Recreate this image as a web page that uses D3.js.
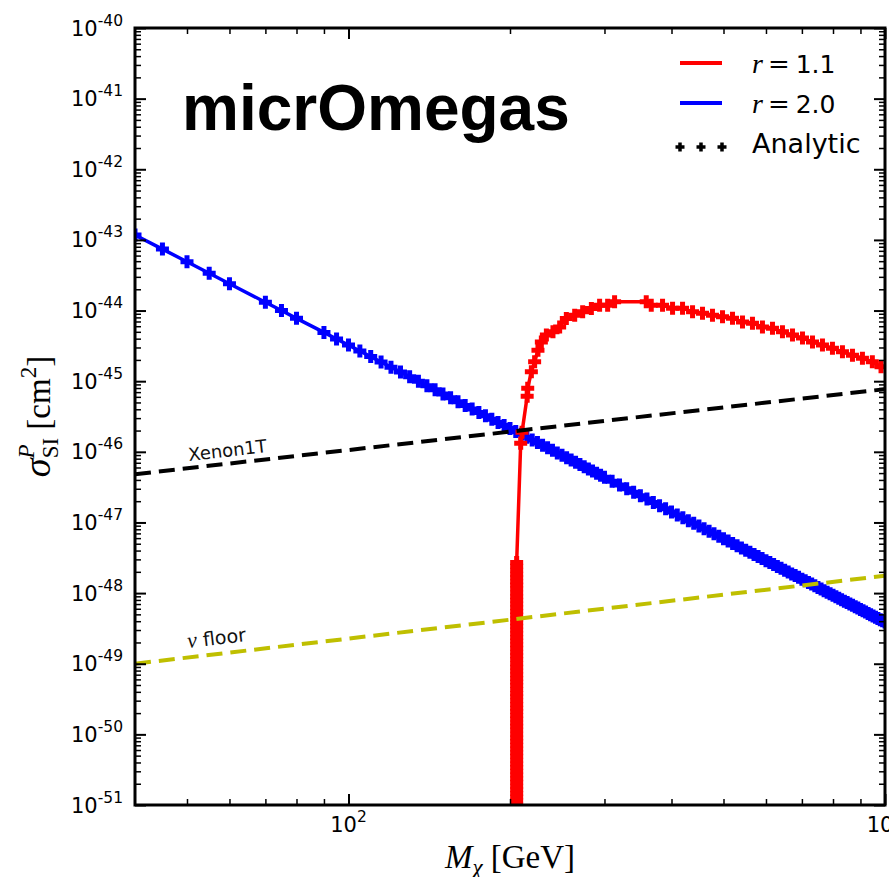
<!DOCTYPE html>
<html>
<head>
<meta charset="utf-8">
<script src="https://cdn.jsdelivr.net/npm/d3@7"></script>
<style>
body { margin: 0; background: #fff; }
</style>
</head>
<body>
<div id="chart"></div>
<script>
// r = 2.0 scan (mass in GeV, sigma in cm^2)
var blueMass = [40, 45, 50, 55, 60, 70, 75, 80, 90, 95,
    100, 105, 110, 115, 120, 125, 130, 135, 140, 145, 150, 155, 160, 165, 170, 175, 180, 185, 190, 195,
    200, 205, 210, 215, 220, 225, 230, 235, 240, 245, 250, 255, 260, 265, 270, 275, 280, 285, 290, 295,
    300, 310, 320, 330, 340, 350, 360, 370, 380, 390, 400, 410, 420, 430, 440, 450, 460, 470, 480, 490,
    500, 510, 520, 530, 540, 550, 560, 570, 580, 590, 600, 610, 620, 630, 640, 650, 660, 670, 680, 690,
    700, 710, 720, 730, 740, 750, 760, 770, 780, 790, 800, 810, 820, 830, 840, 850, 860, 870, 880, 890,
    900, 910, 920, 930, 940, 950, 960, 970, 980, 990, 1000];
var blueSigma = [1.17e-43, 7.41e-44, 4.90e-44, 3.37e-44, 2.40e-44, 1.31e-44, 1.00e-44, 7.76e-45, 4.90e-45, 3.96e-45,
    3.24e-45, 2.67e-45, 2.23e-45, 1.87e-45, 1.58e-45, 1.35e-45, 1.16e-45, 9.98e-46, 8.65e-46, 7.54e-46,
    6.60e-46, 5.81e-46, 5.13e-46, 4.54e-46, 4.05e-46, 3.61e-46, 3.23e-46, 2.90e-46, 2.61e-46, 2.36e-46,
    2.14e-46, 1.94e-46, 1.77e-46, 1.61e-46, 1.47e-46, 1.35e-46, 1.24e-46, 1.14e-46, 1.05e-46, 9.64e-47,
    8.91e-47, 8.24e-47, 7.64e-47, 7.10e-47, 6.59e-47, 6.14e-47, 5.71e-47, 5.33e-47, 4.98e-47, 4.66e-47,
    4.36e-47, 3.84e-47, 3.39e-47, 3.01e-47, 2.67e-47, 2.38e-47, 2.14e-47, 1.92e-47, 1.73e-47, 1.56e-47,
    1.41e-47, 1.28e-47, 1.17e-47, 1.06e-47, 9.72e-48, 8.91e-48, 8.17e-48, 7.51e-48, 6.92e-48, 6.38e-48,
    5.89e-48, 5.45e-48, 5.05e-48, 4.69e-48, 4.36e-48, 4.05e-48, 3.78e-48, 3.52e-48, 3.29e-48, 3.08e-48,
    2.88e-48, 2.70e-48, 2.54e-48, 2.38e-48, 2.24e-48, 2.11e-48, 1.99e-48, 1.87e-48, 1.77e-48, 1.67e-48,
    1.57e-48, 1.49e-48, 1.41e-48, 1.34e-48, 1.27e-48, 1.20e-48, 1.14e-48, 1.08e-48, 1.03e-48, 9.80e-49,
    9.33e-49, 8.88e-49, 8.47e-49, 8.07e-49, 7.69e-49, 7.35e-49, 7.02e-49, 6.71e-49, 6.41e-49, 6.14e-49,
    5.87e-49, 5.62e-49, 5.39e-49, 5.16e-49, 4.95e-49, 4.75e-49, 4.56e-49, 4.38e-49, 4.21e-49, 4.05e-49, 3.89e-49];

// r = 1.1 scan: the points piled up at the threshold, then the rest
var redEdgeMass = 205.8;
var redEdgeSigma = [8.0e-52, 9.0e-52,
    1.0e-51, 1.15e-51, 1.3e-51, 1.45e-51, 1.65e-51, 1.85e-51, 2.1e-51, 2.35e-51, 2.65e-51, 3.0e-51,
    3.4e-51, 3.8e-51, 4.3e-51, 4.9e-51, 5.5e-51, 6.2e-51, 7.0e-51, 7.9e-51, 8.9e-51,
    1.0e-50, 1.15e-50, 1.3e-50, 1.45e-50, 1.65e-50, 1.85e-50, 2.1e-50, 2.35e-50, 2.65e-50, 3.0e-50,
    3.4e-50, 3.8e-50, 4.3e-50, 4.9e-50, 5.5e-50, 6.2e-50, 7.0e-50, 7.9e-50, 8.9e-50,
    1.0e-49, 1.15e-49, 1.3e-49, 1.45e-49, 1.65e-49, 1.85e-49, 2.1e-49, 2.35e-49, 2.65e-49, 3.0e-49,
    3.4e-49, 3.8e-49, 4.3e-49, 4.9e-49, 5.5e-49, 6.2e-49, 7.0e-49, 7.9e-49, 8.9e-49,
    1.0e-48, 1.15e-48, 1.3e-48, 1.45e-48, 1.65e-48, 1.85e-48, 2.1e-48, 2.4e-48, 2.7e-48];
var redMass = [209.4, 210.6, 215.3, 215.8, 219.2, 222.3, 225.5, 228.8, 233.8, 240.5,
    247.5, 254.7, 264.0, 273.2, 283.6, 293.8, 304.1, 313.3, 358.9, 366.7,
    384.9, 401.8, 419.4, 437.8, 456.9, 476.9, 497.9, 519.7, 542.5, 566.2,
    591.0, 617.0, 644.0, 672.3, 701.8, 732.6, 764.6, 798.1, 833.1, 869.7,
    907.7, 947.1, 983.1];
var redSigma = [1.32e-46, 1.90e-46, 6.13e-46, 7.96e-46, 1.36e-45, 1.88e-45, 2.75e-45, 3.60e-45, 4.49e-45, 4.99e-45,
    5.87e-45, 7.73e-45, 8.61e-45, 9.59e-45, 1.07e-44, 1.19e-44, 1.19e-44, 1.33e-44, 1.33e-44, 1.19e-44,
    1.19e-44, 1.08e-44, 1.08e-44, 9.59e-45, 9.19e-45, 8.61e-45, 8.15e-45, 7.80e-45, 6.91e-45, 6.63e-45,
    5.87e-45, 5.63e-45, 4.99e-45, 4.49e-45, 4.07e-45, 3.60e-45, 3.24e-45, 2.93e-45, 2.60e-45, 2.33e-45,
    2.12e-45, 1.88e-45, 1.60e-45];

// limits
var xenonMass = [40, 100, 200, 500, 1000];
var xenonSigma = [4.82e-47, 1.06e-46, 1.93e-46, 4.25e-46, 7.71e-46];
var floorMass = [40, 100, 200, 500, 1000];
var floorSigma = [1.0e-49, 2.27e-49, 4.20e-49, 9.49e-49, 1.76e-48];

// ticks
var xMajor = [100, 1000];
var xMajorLabels = ["2", "3"];
var yExponents = [-40, -41, -42, -43, -44, -45, -46, -47, -48, -49, -50, -51];

var width = 889, height = 877;
var pLeft = 135, pRight = 885, pTop = 28, pBottom = 805;

var svg = d3.select("#chart")
    .append("svg")
    .attr("width", width)
    .attr("height", height);

var x = d3.scaleLog().domain([40, 1000]).range([pLeft, pRight]);
var y = d3.scaleLog().domain([1e-51, 1e-40]).range([pBottom, pTop]);

svg.append("clipPath")
    .attr("id", "plotArea")
    .append("rect")
    .attr("x", pLeft)
    .attr("y", pTop)
    .attr("width", pRight - pLeft)
    .attr("height", pBottom - pTop);

var plot = svg.append("g").attr("clip-path", "url(#plotArea)");

var line = d3.line()
    .x(function(d){ return x(d[0]); })
    .y(function(d){ return y(d[1]); });

var crossPath = function(s){ return "M" + (-s) + ",0H" + s + "M0," + (-s) + "V" + s; };

function drawSeries(data, color){
    plot.append("path")
        .datum(data)
        .attr("d", line)
        .attr("fill", "none")
        .attr("stroke", color)
        .attr("stroke-width", 3.5);
    plot.append("g")
        .selectAll("path")
        .data(data)
        .enter()
        .append("path")
        .attr("transform", function(d){ return "translate(" + x(d[0]) + "," + y(d[1]) + ")"; })
        .attr("d", crossPath(6.5))
        .attr("stroke", color)
        .attr("stroke-width", 5)
        .attr("fill", "none");
}

var blue = blueMass.map(function(m, i){ return [m, blueSigma[i]]; });
var red = redEdgeSigma.map(function(s){ return [redEdgeMass, s]; })
    .concat(redMass.map(function(m, i){ return [m, redSigma[i]]; }));

drawSeries(blue, "#0000ff");
drawSeries(red, "#ff0000");

// dashed limit lines on top
function drawDashed(mass, sigma, color){
    plot.append("path")
        .datum(mass.map(function(m, i){ return [m, sigma[i]]; }))
        .attr("d", line)
        .attr("fill", "none")
        .attr("stroke", color)
        .attr("stroke-width", 4)
        .attr("stroke-dasharray", "16,8");
}
drawDashed(floorMass, floorSigma, "#bfbf00");
drawDashed(xenonMass, xenonSigma, "#000");

// ticks (inside, all four sides)
var isPow10 = function(v){ var l = Math.log10(v); return Math.abs(l - Math.round(l)) < 1e-6; };
var xMinor = x.ticks().filter(function(v){ return !isPow10(v) && v > 40; });
var yMajor = yExponents.map(function(e){ return Math.pow(10, e); });
var yMinor = y.ticks(20).filter(function(v){ return !isPow10(v); });

function tickAxis(axis, transform, values, size, w){
    svg.append("g")
        .attr("transform", transform)
        .call(axis.tickValues(values).tickSize(-size).tickFormat(""))
        .call(function(g){ g.select(".domain").remove(); g.selectAll("text").remove(); })
        .selectAll("line")
        .attr("stroke", "#000")
        .attr("stroke-width", w);
}
tickAxis(d3.axisBottom(x), "translate(0," + pBottom + ")", xMajor, 11, 2);
tickAxis(d3.axisBottom(x), "translate(0," + pBottom + ")", xMinor, 6, 1.5);
tickAxis(d3.axisTop(x), "translate(0," + pTop + ")", xMajor, 11, 2);
tickAxis(d3.axisTop(x), "translate(0," + pTop + ")", xMinor, 6, 1.5);
tickAxis(d3.axisLeft(y), "translate(" + pLeft + ",0)", yMajor, 11, 2);
tickAxis(d3.axisLeft(y), "translate(" + pLeft + ",0)", yMinor, 6, 1.5);
tickAxis(d3.axisRight(y), "translate(" + pRight + ",0)", yMajor, 11, 2);
tickAxis(d3.axisRight(y), "translate(" + pRight + ",0)", yMinor, 6, 1.5);

svg.append("rect")
    .attr("x", pLeft)
    .attr("y", pTop)
    .attr("width", pRight - pLeft)
    .attr("height", pBottom - pTop)
    .attr("fill", "none")
    .attr("stroke", "#000")
    .attr("stroke-width", 3);

// tick labels
var sans = "'DejaVu Sans', sans-serif";
var serif = "'Liberation Serif', 'DejaVu Serif', serif";

var yLab = svg.append("g")
    .selectAll("text")
    .data(yExponents)
    .enter()
    .append("text")
    .attr("x", pLeft - 12)
    .attr("y", function(d){ return y(Math.pow(10, d)) + 7.5; })
    .attr("text-anchor", "end")
    .attr("font-family", sans)
    .attr("font-size", "21px")
    .attr("fill", "#000");
yLab.append("tspan").text("10");
yLab.append("tspan").attr("dy", -10).attr("font-size", "15.5px").text(function(d){ return "-" + Math.abs(d); });

var xLab = svg.append("g")
    .selectAll("text")
    .data(xMajor)
    .enter()
    .append("text")
    .attr("x", function(d){ return x(d); })
    .attr("y", pBottom + 27)
    .attr("text-anchor", "middle")
    .attr("font-family", sans)
    .attr("font-size", "21px")
    .attr("fill", "#000");
xLab.append("tspan").text("10");
xLab.append("tspan").attr("dy", -10).attr("font-size", "15.5px").text(function(d, i){ return xMajorLabels[i]; });

// axis titles
var xt = svg.append("text")
    .attr("x", (pLeft + pRight) / 2)
    .attr("y", 868)
    .attr("text-anchor", "middle")
    .attr("font-family", serif)
    .attr("font-size", "33px")
    .attr("fill", "#000");
xt.append("tspan").attr("font-style", "italic").text("M");
xt.append("tspan").attr("font-style", "italic").attr("font-size", "23px").attr("dy", 7).text("χ");
xt.append("tspan").attr("dy", -7).text(" [GeV]");

var yt = svg.append("text")
    .attr("transform", "translate(50," + ((pTop + pBottom) / 2) + ") rotate(-90)")
    .attr("text-anchor", "middle")
    .attr("font-family", serif)
    .attr("font-size", "33px")
    .attr("fill", "#000");
yt.append("tspan").attr("font-style", "italic").attr("font-size", "38px").text("σ");
yt.append("tspan").attr("font-style", "italic").attr("font-size", "23px").attr("dy", -16).text("P");
yt.append("tspan").attr("font-size", "23px").attr("dx", -14).attr("dy", 24).text("SI");
yt.append("tspan").attr("dy", -8).text(" [cm");
yt.append("tspan").attr("font-size", "23px").attr("dy", -14).text("2");
yt.append("tspan").attr("dy", 14).text("]");

// title
svg.append("text")
    .attr("x", 182)
    .attr("y", 130)
    .attr("font-family", "'Liberation Sans', Arial, sans-serif")
    .attr("font-weight", "bold")
    .attr("font-size", "64px")
    .attr("fill", "#000")
    .text("micrOmegas");

// line labels
svg.append("text")
    .attr("transform", "translate(189,461) rotate(-6.5)")
    .attr("font-family", sans)
    .attr("font-size", "18px")
    .attr("fill", "#111")
    .text("Xenon1T");

var nu = svg.append("text")
    .attr("transform", "translate(188,648) rotate(-6.7)")
    .attr("font-family", sans)
    .attr("font-size", "19px")
    .attr("fill", "#111");
nu.append("tspan").attr("font-family", serif).attr("font-style", "italic").attr("font-size", "22px").text("ν");
nu.append("tspan").text(" floor");

// legend
var legend = svg.append("g");
[{c: "#ff0000", y: 63, v: "1.1"}, {c: "#0000ff", y: 103, v: "2.0"}].forEach(function(e){
    legend.append("line")
        .attr("x1", 680).attr("x2", 722)
        .attr("y1", e.y).attr("y2", e.y)
        .attr("stroke", e.c)
        .attr("stroke-width", 4);
    var t = legend.append("text")
        .attr("x", 752)
        .attr("y", e.y + 10)
        .attr("fill", "#000");
    t.append("tspan").attr("font-family", serif).attr("font-style", "italic").attr("font-size", "28px").text("r");
    t.append("tspan").attr("font-family", "'DejaVu Serif', serif").attr("font-size", "26px").attr("dx", 5).text("=");
    t.append("tspan").attr("font-family", sans).attr("font-size", "25px").attr("dx", 6).text(e.v);
});
[680, 701, 722].forEach(function(px){
    legend.append("path")
        .attr("transform", "translate(" + px + ",147)")
        .attr("d", crossPath(4.5))
        .attr("stroke", "#000")
        .attr("stroke-width", 3.5);
});
legend.append("text")
    .attr("x", 752)
    .attr("y", 153)
    .attr("font-family", sans)
    .attr("font-size", "27px")
    .attr("fill", "#000")
    .text("Analytic");
</script>
</body>
</html>
